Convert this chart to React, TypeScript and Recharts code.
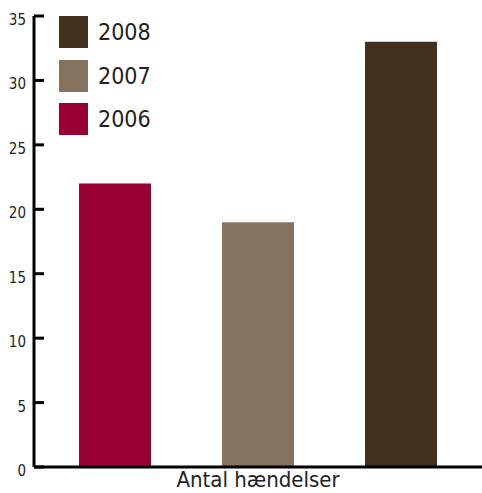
import { BarChart, Bar, XAxis, YAxis } from 'recharts'

const CATEGORIES = ['Antal hændelser']
const YEARS = ['2006', '2007', '2008']
const VALUES = [22, 19, 33]
const COLORS = ['#990033', '#85735F', '#41301C']
const Y_TICKS = [0, 5, 10, 15, 20, 25, 30, 35]

const FONT = '"Liberation Sans Narrow", "DejaVu Sans Condensed", sans-serif'

const data = CATEGORIES.map(name => ({
  name,
  ...Object.fromEntries(YEARS.map((y, i) => [y, VALUES[i]])),
}))

function YTick(props: any) {
  const { x, y, payload } = props
  return (
    <g>
      <line x1={x} x2={x + 10} y1={y} y2={y} stroke="#000" strokeWidth={3} />
      <text x={x - 8} y={y} dy={9} textAnchor="end" fontSize={15} fill="#222" fontFamily={FONT}>
        {payload.value}
      </text>
    </g>
  )
}

function XTick(props: any) {
  const { x, y, payload } = props
  return (
    <text x={x} y={y} dy={20} textAnchor="middle" fontSize={22} fill="#222" fontFamily={FONT}>
      {payload.value}
    </text>
  )
}

function YearLegend() {
  const order = YEARS.map((y, i) => i).reverse()
  return (
    <div style={{ position: 'absolute', left: 59, top: 16 }}>
      {order.map((i, k) => (
        <div key={YEARS[i]} style={{ display: 'flex', alignItems: 'center', height: 32, marginBottom: k < 2 ? 11.5 : 0 }}>
          <div style={{ width: 29, height: 32, background: COLORS[i] }} />
          <span style={{ marginLeft: 10, fontSize: 23, fontFamily: FONT, color: '#222' }}>{YEARS[i]}</span>
        </div>
      ))}
    </div>
  )
}

export default function App() {
  return (
    <div style={{ position: 'absolute', left: 0, top: 0, width: 482, height: 493, background: '#fff' }}>
      <BarChart width={482} height={493} data={data} margin={{ top: 16, right: 0, bottom: 0, left: 0 }} barSize={72} barGap={71}>
        <XAxis
          dataKey="name"
          height={26}
          axisLine={{ stroke: '#000', strokeWidth: 3 }}
          tickLine={false}
          tick={<XTick />}
          tickSize={0}
          tickMargin={0}
        />
        <YAxis
          width={34}
          domain={[0, 35]}
          ticks={Y_TICKS}
          axisLine={{ stroke: '#000', strokeWidth: 3 }}
          tickLine={false}
          tickSize={0}
          tickMargin={0}
          tick={<YTick />}
        />
        {YEARS.map((y, i) => (
          <Bar key={y} dataKey={y} fill={COLORS[i]} isAnimationActive={false} />
        ))}
      </BarChart>
      <YearLegend />
    </div>
  )
}
